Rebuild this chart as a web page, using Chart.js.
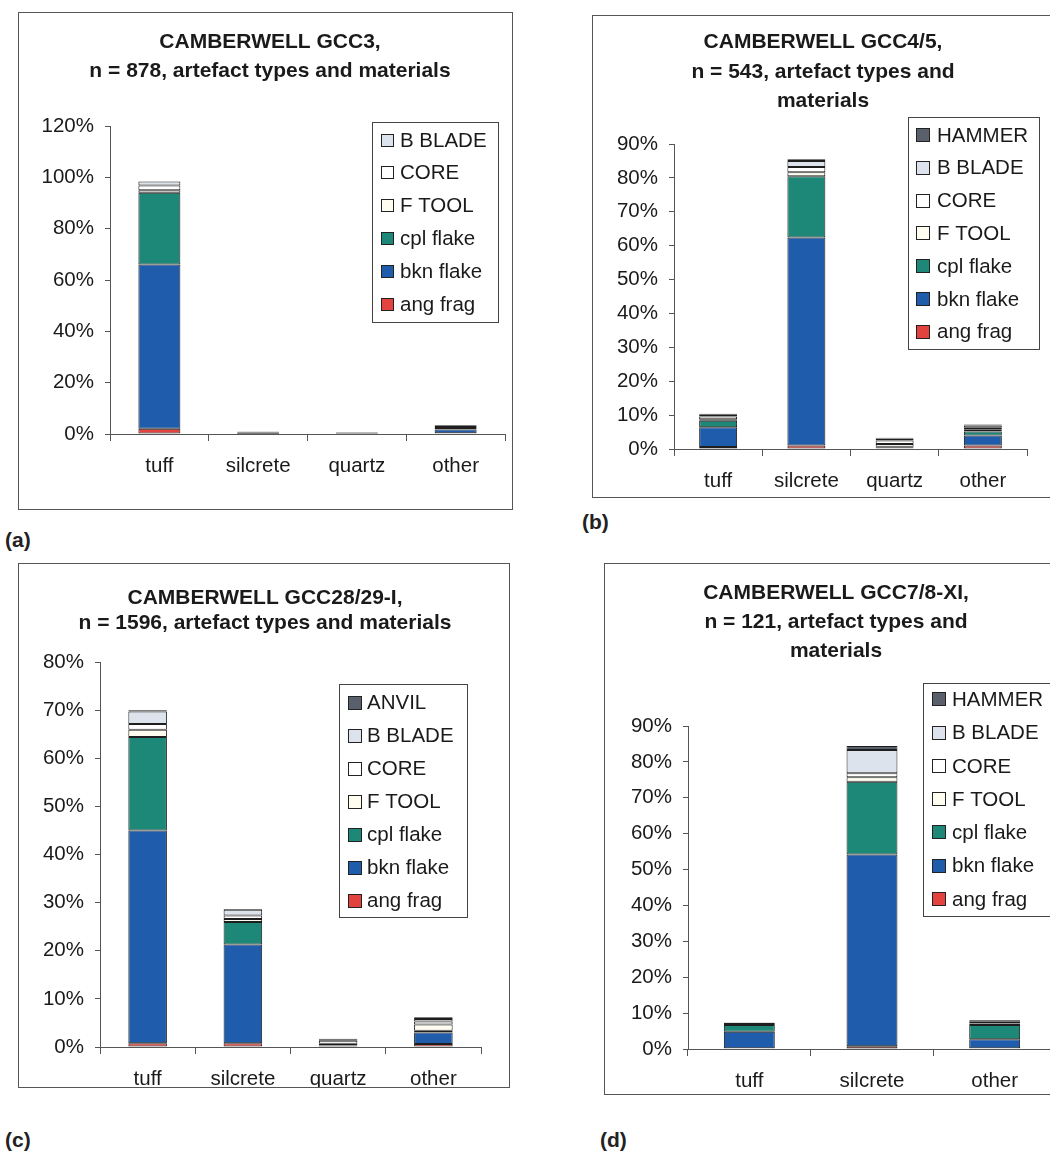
<!DOCTYPE html>
<html>
<head>
<meta charset="utf-8">
<title>Camberwell artefact types and materials</title>
<script src="https://cdn.jsdelivr.net/npm/chart.js@4.4.1/dist/chart.umd.min.js"></script>
<style>
  html, body { margin: 0; padding: 0; background: #fff; }
  body { position: relative; width: 1050px; height: 1157px; overflow: hidden;
         font-family: "Liberation Sans", Arial, sans-serif; }
  .panel { position: absolute; }
  .panel canvas { display: block; }
  .frame { position: absolute; border: 1px solid #555; box-sizing: border-box; pointer-events: none; }
  .tag { position: absolute; font-weight: bold; font-size: 21px; line-height: 24px; color: #222; }
</style>
</head>
<body>
<script>
// ---- GCC3 (n = 878) ----
const gcc3Materials = ['tuff', 'silcrete', 'quartz', 'other'];
const gcc3Types = ['ang frag', 'bkn flake', 'cpl flake', 'F TOOL', 'CORE', 'B BLADE'];
const gcc3Values = [
  [2.0, 0.1, 0.1, 0.3],    // ang frag
  [64.0, 0.3, 0.2, 1.5],   // bkn flake
  [28.0, 0.2, 0.1, 0.5],   // cpl flake
  [1.0, 0.0, 0.1, 0.4],    // F TOOL
  [1.8, 0.3, 0.2, 0.4],    // CORE
  [1.6, 0.1, 0.0, 0.3]     // B BLADE
];
const gcc3Title = ['CAMBERWELL GCC3,', 'n = 878, artefact types and materials'];

// ---- GCC4/5 (n = 543) ----
const gcc45Materials = ['tuff', 'silcrete', 'quartz', 'other'];
const gcc45Types = ['ang frag', 'bkn flake', 'cpl flake', 'F TOOL', 'CORE', 'B BLADE', 'HAMMER'];
const gcc45Values = [
  [0.6, 1.0, 0.2, 1.0],    // ang frag
  [5.8, 61.4, 0.3, 3.0],   // bkn flake
  [1.9, 18.1, 0.2, 1.2],   // cpl flake
  [0.5, 1.2, 0.8, 0.5],    // F TOOL
  [0.8, 1.5, 1.0, 0.6],    // CORE
  [0.5, 1.8, 0.6, 0.6],    // B BLADE
  [0.3, 0.5, 0.2, 0.3]     // HAMMER
];
const gcc45Title = ['CAMBERWELL GCC4/5,', 'n = 543, artefact types and', 'materials'];

// ---- GCC28/29-I (n = 1596) ----
const gcc2829Materials = ['tuff', 'silcrete', 'quartz', 'other'];
const gcc2829Types = ['ang frag', 'bkn flake', 'cpl flake', 'F TOOL', 'CORE', 'B BLADE', 'ANVIL'];
const gcc2829Values = [
  [0.8, 0.8, 0.2, 0.6],    // ang frag
  [44.2, 20.5, 0.1, 2.4],  // bkn flake
  [19.4, 4.7, 0.1, 0.4],   // cpl flake
  [1.5, 0.6, 0.3, 1.3],    // F TOOL
  [1.2, 0.7, 0.6, 0.6],    // CORE
  [2.6, 1.2, 0.3, 0.5],    // B BLADE
  [0.3, 0.2, 0.1, 0.4]     // ANVIL
];
const gcc2829Title = ['CAMBERWELL GCC28/29-I,', 'n = 1596, artefact types and materials'];

// ---- GCC7/8-XI (n = 121) ----
const gcc78Materials = ['tuff', 'silcrete', 'other'];
const gcc78Types = ['ang frag', 'bkn flake', 'cpl flake', 'F TOOL', 'CORE', 'B BLADE', 'HAMMER'];
const gcc78Values = [
  [0.2, 0.8, 0.2],         // ang frag
  [4.6, 53.4, 2.5],        // bkn flake
  [1.9, 20.3, 4.0],        // cpl flake
  [0.3, 1.2, 0.4],         // F TOOL
  [0.3, 1.1, 0.5],         // CORE
  [0.1, 6.5, 0.3],         // B BLADE
  [0.0, 1.1, 0.2]          // HAMMER
];
const gcc78Title = ['CAMBERWELL GCC7/8-XI,', 'n = 121, artefact types and', 'materials'];

// ---- fill colour for each artefact type ----
const typeColors = {
  'ang frag': '#e2433e',
  'bkn flake': '#1f5cab',
  'cpl flake': '#1e8878',
  'F TOOL': '#fffdf0',
  'CORE': '#ffffff',
  'B BLADE': '#dde3ec',
  'HAMMER': '#5a5f6c',
  'ANVIL': '#5a5f6c'
};

const FONT = '"Liberation Sans", Arial, sans-serif';
const INK = '#1a1a1a';

// Centred, multi-line bold heading at a fixed spot above the plot.
const panelTitle = {
  id: 'panelTitle',
  afterDraw(chart, args, o) {
    const ctx = chart.ctx;
    ctx.save();
    ctx.font = `bold ${o.size}px ${FONT}`;
    ctx.fillStyle = INK;
    ctx.textAlign = 'center';
    ctx.textBaseline = 'middle';
    o.lines.forEach((t, i) => ctx.fillText(t, o.x, o.y + i * o.lh));
    ctx.restore();
  }
};

// Boxed legend in the upper right of each plot, topmost series first.
const boxLegend = {
  id: 'boxLegend',
  afterDraw(chart, args, o) {
    const ctx = chart.ctx;
    ctx.save();
    ctx.fillStyle = '#fff';
    ctx.fillRect(o.x, o.y, o.w, o.h);
    ctx.strokeStyle = '#444';
    ctx.lineWidth = 1;
    ctx.strokeRect(Math.round(o.x) + 0.5, Math.round(o.y) + 0.5, o.w, o.h);
    ctx.font = `${o.size}px ${FONT}`;
    ctx.textBaseline = 'middle';
    const sets = chart.data.datasets.slice().reverse();
    sets.forEach((ds, i) => {
      const cy = o.first + i * o.row;
      const sy = Math.round(cy - o.sw / 2);
      ctx.fillStyle = ds.backgroundColor;
      ctx.fillRect(o.swX, sy, o.sw, o.sw);
      ctx.strokeStyle = '#222';
      ctx.strokeRect(o.swX + 0.5, sy + 0.5, o.sw - 1, o.sw - 1);
      ctx.fillStyle = INK;
      ctx.fillText(ds.label, o.txtX, cy + 1);
    });
    ctx.restore();
  }
};

// Page layout of the four framed charts.
const panels = [
  { tag: '(a)', tagPos: [5, 528], title: gcc3Title, materials: gcc3Materials, types: gcc3Types, values: gcc3Values,
    yMax: 120, yStep: 20, box: { x: 18, y: 12, r: 513, b: 510 }, area: { l: 110, t: 126, r: 505, b: 434 },
    titleX: 270, titleY: 42, titleLH: 29, bar: 0.425,
    legend: { x: 372, y: 122, w: 126, h: 200, first: 140, row: 32.8, sw: 13, swX: 381, txtX: 400 } },
  { tag: '(b)', tagPos: [582, 510], title: gcc45Title, materials: gcc45Materials, types: gcc45Types, values: gcc45Values,
    yMax: 90, yStep: 10, box: { x: 592, y: 15, r: 1065, b: 498 }, area: { l: 674, t: 144, r: 1027, b: 449 },
    titleX: 823, titleY: 42.7, titleLH: 29.5, bar: 0.43,
    legend: { x: 908, y: 117, w: 131, h: 232, first: 135, row: 32.8, sw: 14, swX: 916, txtX: 937 } },
  { tag: '(c)', tagPos: [5, 1128], title: gcc2829Title, materials: gcc2829Materials, types: gcc2829Types, values: gcc2829Values,
    yMax: 80, yStep: 10, box: { x: 18, y: 563, r: 510, b: 1088 }, area: { l: 100, t: 662, r: 481, b: 1047 },
    titleX: 265, titleY: 598, titleLH: 25, bar: 0.405,
    legend: { x: 339, y: 684, w: 128, h: 233, first: 702.7, row: 33, sw: 14, swX: 348, txtX: 367 } },
  { tag: '(d)', tagPos: [600, 1128], title: gcc78Title, materials: gcc78Materials, types: gcc78Types, values: gcc78Values,
    yMax: 90, yStep: 10, box: { x: 604, y: 563, r: 1075, b: 1095 }, area: { l: 688, t: 726, r: 1056, b: 1049 },
    titleX: 836, titleY: 593.3, titleLH: 29.2, bar: 0.415,
    legend: { x: 923, y: 683, w: 140, h: 233, first: 699.3, row: 33.3, sw: 14, swX: 932, txtX: 952 } }
];

function buildPanel(p) {
  const w = p.box.r - p.box.x;
  const h = p.box.b - p.box.y;

  const wrap = document.createElement('div');
  wrap.className = 'panel';
  wrap.style.cssText = `left:${p.box.x}px;top:${p.box.y}px;width:${w}px;height:${h}px;`;
  const cv = document.createElement('canvas');
  cv.width = w; cv.height = h;
  cv.style.width = w + 'px'; cv.style.height = h + 'px';
  wrap.appendChild(cv);
  document.body.appendChild(wrap);

  const frame = document.createElement('div');
  frame.className = 'frame';
  frame.style.cssText = `left:${p.box.x}px;top:${p.box.y}px;width:${w}px;height:${h}px;`;
  document.body.appendChild(frame);

  const tag = document.createElement('div');
  tag.className = 'tag';
  tag.textContent = p.tag;
  tag.style.left = p.tagPos[0] + 'px';
  tag.style.top = p.tagPos[1] + 'px';
  document.body.appendChild(tag);

  // layout arithmetic (canvas coordinates)
  const padR = p.box.r - p.area.r;
  const padT = p.area.t - p.box.y;
  const yAxisW = p.area.l - p.box.x;
  const xAxisH = p.box.b - p.area.b;

  const datasets = p.types.map((t, i) => ({
    label: t,
    data: p.values[i],
    backgroundColor: typeColors[t],
    borderColor: '#1e1e1e',
    borderWidth: 1,
    borderSkipped: false,
    categoryPercentage: 1,
    barPercentage: p.bar
  }));

  const L = p.legend;
  new Chart(cv, {
    type: 'bar',
    data: { labels: p.materials, datasets },
    plugins: [panelTitle, boxLegend],
    options: {
      responsive: false,
      animation: false,
      devicePixelRatio: 1,
      layout: { padding: { left: 0, right: padR, top: padT, bottom: 0 } },
      plugins: {
        legend: { display: false },
        tooltip: { enabled: false },
        title: { display: false },
        panelTitle: {
          lines: p.title, size: 21,
          x: p.titleX - p.box.x, y: p.titleY - p.box.y, lh: p.titleLH
        },
        boxLegend: {
          x: L.x - p.box.x, y: L.y - p.box.y, w: L.w, h: L.h,
          first: L.first - p.box.y, row: L.row, sw: L.sw,
          swX: L.swX - p.box.x, txtX: L.txtX - p.box.x, size: 20.5
        }
      },
      scales: {
        x: {
          stacked: true,
          offset: true,
          grid: { offset: true, drawOnChartArea: false, drawTicks: true, tickLength: 7, color: '#555' },
          border: { display: true, color: '#555', width: 1 },
          ticks: { color: INK, font: { family: FONT, size: 20.5 }, padding: 13, maxRotation: 0 },
          afterFit(s) { s.height = xAxisH; }
        },
        y: {
          stacked: true,
          min: 0,
          max: p.yMax,
          grid: { drawOnChartArea: false, drawTicks: true, tickLength: 5, color: '#555' },
          border: { display: true, color: '#555', width: 1 },
          ticks: { stepSize: p.yStep, color: INK, font: { family: FONT, size: 20.5 }, padding: 11,
                   callback: v => v + '%' },
          afterFit(s) { s.width = yAxisW; }
        }
      }
    }
  });
}

panels.forEach(buildPanel);
</script>
</body>
</html>
